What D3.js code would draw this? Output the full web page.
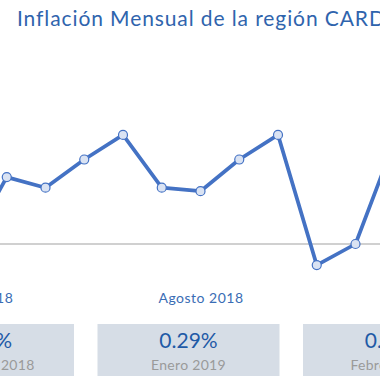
<!DOCTYPE html>
<html>
<head>
<meta charset="utf-8">
<script src="https://cdn.jsdelivr.net/npm/d3@7"></script>
<style>
  body { margin: 0; background: #fff; }
  svg { display: block; font-family: "Lato", "Open Sans", sans-serif; }
</style>
</head>
<body>
<div id="chart"></div>
<script>
// Monthly data (Feb 2018 - Feb 2019)
var months = ["Febrero 2018", "Marzo 2018", "Abril 2018", "Mayo 2018", "Junio 2018", "Julio 2018",
  "Agosto 2018", "Septiembre 2018", "Octubre 2018", "Noviembre 2018", "Diciembre 2018",
  "Enero 2019", "Febrero 2019"];
var inflation = [-0.01, 0.19, 0.16, 0.24, 0.31, 0.16, 0.15, 0.24, 0.31, -0.06, 0.00, 0.29, 0.18];
var tickMonths = ["Febrero 2018", "Agosto 2018", "Febrero 2019"];

// Summary cards
var cardLabels = ["Diciembre 2018", "Enero 2019", "Febrero 2019"];
var cardValues = ["0.00%", "0.29%", "0.18%"];

var svgWidth = 380;
var svgHeight = 380;

var svg = d3.select("#chart")
  .append("svg")
  .attr("width", svgWidth)
  .attr("height", svgHeight);

// Title
svg.append("text")
  .attr("x", 17)
  .attr("y", 26)
  .attr("font-size", 21)
  .attr("letter-spacing", 0.9)
  .attr("fill", "#2f64ad")
  .text("Inflación Mensual de la región CARD");

// Scales
var xScale = d3.scalePoint()
  .domain(months)
  .range([-32, 433]);

var yScale = d3.scaleLinear()
  .domain([0, 0.3])
  .range([244, 138.4]);

// Zero line
svg.append("line")
  .attr("x1", 0)
  .attr("x2", svgWidth)
  .attr("y1", yScale(0))
  .attr("y2", yScale(0))
  .attr("stroke", "#c0c0c0")
  .attr("stroke-width", 1.5);

// X axis labels
var xAxis = d3.axisBottom(xScale)
  .tickValues(tickMonths)
  .tickSize(0)
  .tickPadding(0);

var xAxisGroup = svg.append("g")
  .attr("transform", "translate(0, 293)")
  .call(xAxis);

xAxisGroup.select(".domain").remove();
xAxisGroup.selectAll("text")
  .attr("font-size", 14)
  .attr("letter-spacing", 0.5)
  .attr("font-family", "Lato, sans-serif")
  .attr("fill", "#3a6db5");

// Line
var line = d3.line()
  .x((d, i) => xScale(months[i]))
  .y(d => yScale(d));

svg.append("path")
  .datum(inflation)
  .attr("d", line)
  .attr("fill", "none")
  .attr("stroke", "#4472c4")
  .attr("stroke-width", 3.7)
  .attr("stroke-linejoin", "round");

// Markers
svg.selectAll(".dot")
  .data(inflation)
  .enter()
  .append("circle")
  .classed("dot", true)
  .attr("cx", (d, i) => xScale(months[i]))
  .attr("cy", d => yScale(d))
  .attr("r", 4.5)
  .attr("fill", "#dae3f3")
  .attr("stroke", "#4472c4")
  .attr("stroke-width", 1.2);

// Cards
var cardScale = d3.scalePoint()
  .domain(cardLabels)
  .range([-17, 394]);
var cardWidth = 182;

var cards = svg.selectAll(".card")
  .data(cardLabels)
  .enter()
  .append("g")
  .classed("card", true)
  .attr("transform", d => `translate(${cardScale(d)}, 324)`);

cards.append("rect")
  .attr("x", -cardWidth / 2)
  .attr("y", 0)
  .attr("width", cardWidth)
  .attr("height", 52)
  .attr("fill", "#d6dde6");

cards.append("text")
  .attr("text-anchor", "middle")
  .attr("y", 24)
  .attr("font-size", 21)
  .attr("fill", "#1f5aa6")
  .text((d, i) => cardValues[i]);

cards.append("text")
  .attr("text-anchor", "middle")
  .attr("y", 46)
  .attr("font-size", 14)
  .attr("letter-spacing", 0.3)
  .attr("fill", "#9a9a9a")
  .text(d => d);
</script>
</body>
</html>
